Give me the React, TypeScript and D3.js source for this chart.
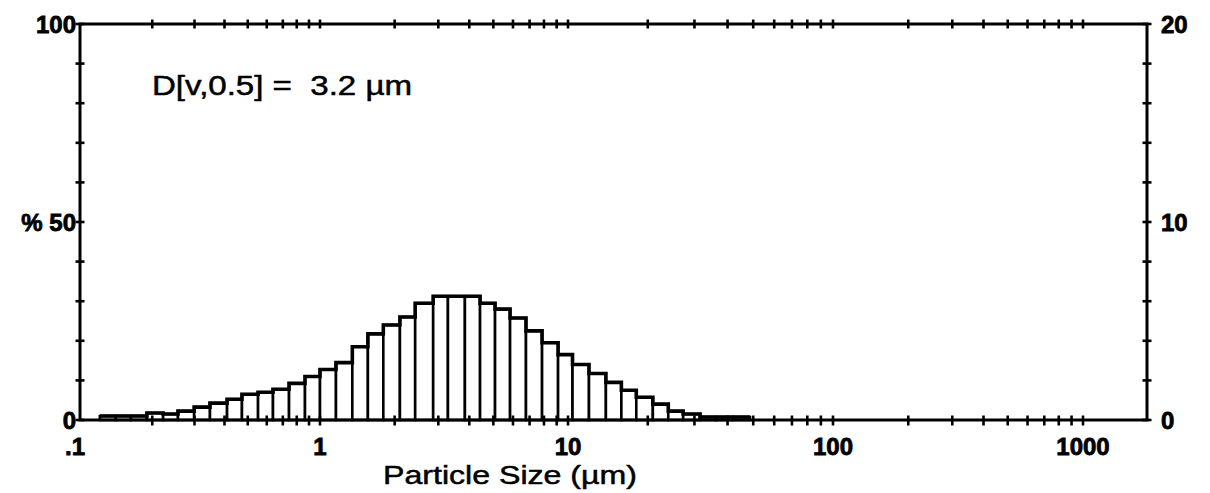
import React from 'react';
import * as d3 from 'd3';

const W = 1210;
const H = 493;
const plot = { left: 80, right: 1147, top: 24, bottom: 420 };

// x axis (particle size, µm, log)
const xDomainKnots = [0.1, 1, 10, 100, 1000, 1800];
const decadeTicks = [0.1, 1, 10, 100, 1000];
const decadeLabels = ['.1', '1', '10', '100', '1000'];
const minorMultipliers = [2, 3, 4, 5, 6, 7, 8, 9];

// histogram bins (µm edges) and volume % in each bin (right axis)
const binEdges = [
  0.121, 0.141, 0.163, 0.19, 0.222, 0.256, 0.299, 0.348, 0.41, 0.473, 0.552,
  0.637, 0.743, 0.866, 1.0, 1.16, 1.35, 1.56, 1.8, 2.1, 2.42, 2.86, 3.28, 3.84,
  4.42, 5.08, 5.84, 6.77, 7.86, 9.12, 10.4, 12.0, 13.9, 15.9, 18.1, 20.9, 23.9,
  27.2, 31.5, 36.2, 41.9, 48.6,
];
const volumePct = [
  0.2, 0.2, 0.2, 0.35, 0.3, 0.45, 0.65, 0.85, 1.05, 1.3,
  1.4, 1.55, 1.85, 2.2, 2.55, 2.9, 3.7, 4.35, 4.8, 5.2,
  5.9, 6.25, 6.25, 6.25, 5.9, 5.6, 5.15, 4.5, 3.9, 3.3,
  2.8, 2.35, 1.9, 1.5, 1.15, 0.8, 0.45, 0.3, 0.15, 0.15, 0.15,
];

// y axes
const leftTicks = [0, 10, 20, 30, 40, 50, 60, 70, 80, 90, 100];
const leftLabelValues = [0, 50, 100];
const leftLabelTexts = ['0', '% 50', '100'];
const rightLabelValues = [0, 10, 20];
const rightLabelTexts = ['0', '10', '20'];

const annotation = 'D[v,0.5] =  3.2 µm';
const xTitle = 'Particle Size (µm)';

const FONT = '"Liberation Sans", Arial, Helvetica, sans-serif';

export default function App() {
  const x = d3
    .scaleLog()
    .domain(xDomainKnots)
    .range([80, 320, 568, 833, 1083, plot.right]);
  const yLeft = d3.scaleLinear().domain([0, 100]).range([plot.bottom, plot.top]);
  const yRight = d3.scaleLinear().domain([0, 20]).range([plot.bottom, plot.top]);

  const minorTicks: number[] = [];
  decadeTicks.slice(0, 4).forEach((d) => {
    minorMultipliers.forEach((m) => minorTicks.push(d * m));
  });
  const allXTicks = [...decadeTicks, ...minorTicks].filter((v) => v > 0.1);

  const bars = volumePct.map((v, i) => ({
    x0: x(binEdges[i]),
    x1: x(binEdges[i + 1]),
    y: yRight(v),
  }));

  const stepPts: [number, number][] = [];
  bars.forEach((b) => {
    stepPts.push([b.x0, b.y]);
    stepPts.push([b.x1, b.y]);
  });
  const stepLine = d3.line()(stepPts) as string;

  const tickLen = 4.5;
  const numStyle = {
    fontSize: 24,
    fontWeight: 700,
    fill: '#000',
    stroke: '#000',
    strokeWidth: 0.8,
  } as const;

  return (
    <svg
      width={W}
      height={H}
      style={{ position: 'absolute', left: 0, top: 0, background: '#fff' }}
      fontFamily={FONT}
    >
      <rect x={0} y={0} width={W} height={H} fill="#fff" />

      {/* bars */}
      <g>
        {bars.map((b, i) => (
          <rect
            key={i}
            x={b.x0}
            y={b.y}
            width={b.x1 - b.x0}
            height={plot.bottom - b.y}
            fill="#fff"
            stroke="#000"
            strokeWidth={2.6}
          />
        ))}
        <path d={stepLine} fill="none" stroke="#000" strokeWidth={3.6} />
      </g>

      {/* frame */}
      <rect
        x={plot.left}
        y={plot.top}
        width={plot.right - plot.left}
        height={plot.bottom - plot.top}
        fill="none"
        stroke="#000"
        strokeWidth={3}
      />

      {/* x ticks top & bottom */}
      {allXTicks.map((v, i) => (
        <g key={'xt' + i}>
          <line
            x1={x(v)}
            x2={x(v)}
            y1={plot.bottom - tickLen}
            y2={plot.bottom + tickLen + 1}
            stroke="#000"
            strokeWidth={2.6}
          />
          <line
            x1={x(v)}
            x2={x(v)}
            y1={plot.top - tickLen}
            y2={plot.top + tickLen}
            stroke="#000"
            strokeWidth={2.6}
          />
        </g>
      ))}

      {/* y ticks left & right */}
      {leftTicks.map((v, i) => (
        <g key={'yt' + i}>
          <line
            x1={plot.left - tickLen}
            x2={plot.left + tickLen}
            y1={yLeft(v)}
            y2={yLeft(v)}
            stroke="#000"
            strokeWidth={2.6}
          />
          <line
            x1={plot.right - tickLen}
            x2={plot.right + tickLen}
            y1={yLeft(v)}
            y2={yLeft(v)}
            stroke="#000"
            strokeWidth={2.6}
          />
        </g>
      ))}

      {/* left labels */}
      {leftLabelValues.map((v, i) => (
        <text
          key={'ll' + i}
          x={plot.left - 4}
          y={yLeft(v)}
          dy="0.36em"
          textAnchor="end"
          {...numStyle}
        >
          {leftLabelTexts[i]}
        </text>
      ))}

      {/* right labels */}
      {rightLabelValues.map((v, i) => (
        <text
          key={'rl' + i}
          x={plot.right + 14}
          y={yRight(v)}
          dy="0.36em"
          textAnchor="start"
          {...numStyle}
        >
          {rightLabelTexts[i]}
        </text>
      ))}

      {/* bottom labels */}
      {decadeTicks.map((v, i) => (
        <text
          key={'bl' + i}
          x={i === 0 ? x(v) + 5 : x(v)}
          y={455}
          textAnchor={i === 0 ? 'end' : 'middle'}
          {...numStyle}
        >
          {decadeLabels[i]}
        </text>
      ))}

      {/* axis title */}
      <text
        x={383}
        y={484}
        fontSize={26}
        textLength={254}
        lengthAdjust="spacingAndGlyphs"
        fill="#000"
        stroke="#000"
        strokeWidth={0.5}
      >
        {xTitle}
      </text>

      {/* annotation */}
      <text
        x={152}
        y={95}
        fontSize={27}
        textLength={260}
        lengthAdjust="spacingAndGlyphs"
        fill="#000"
        stroke="#000"
        strokeWidth={0.5}
        style={{ whiteSpace: 'pre' }}
      >
        {annotation}
      </text>
    </svg>
  );
}
